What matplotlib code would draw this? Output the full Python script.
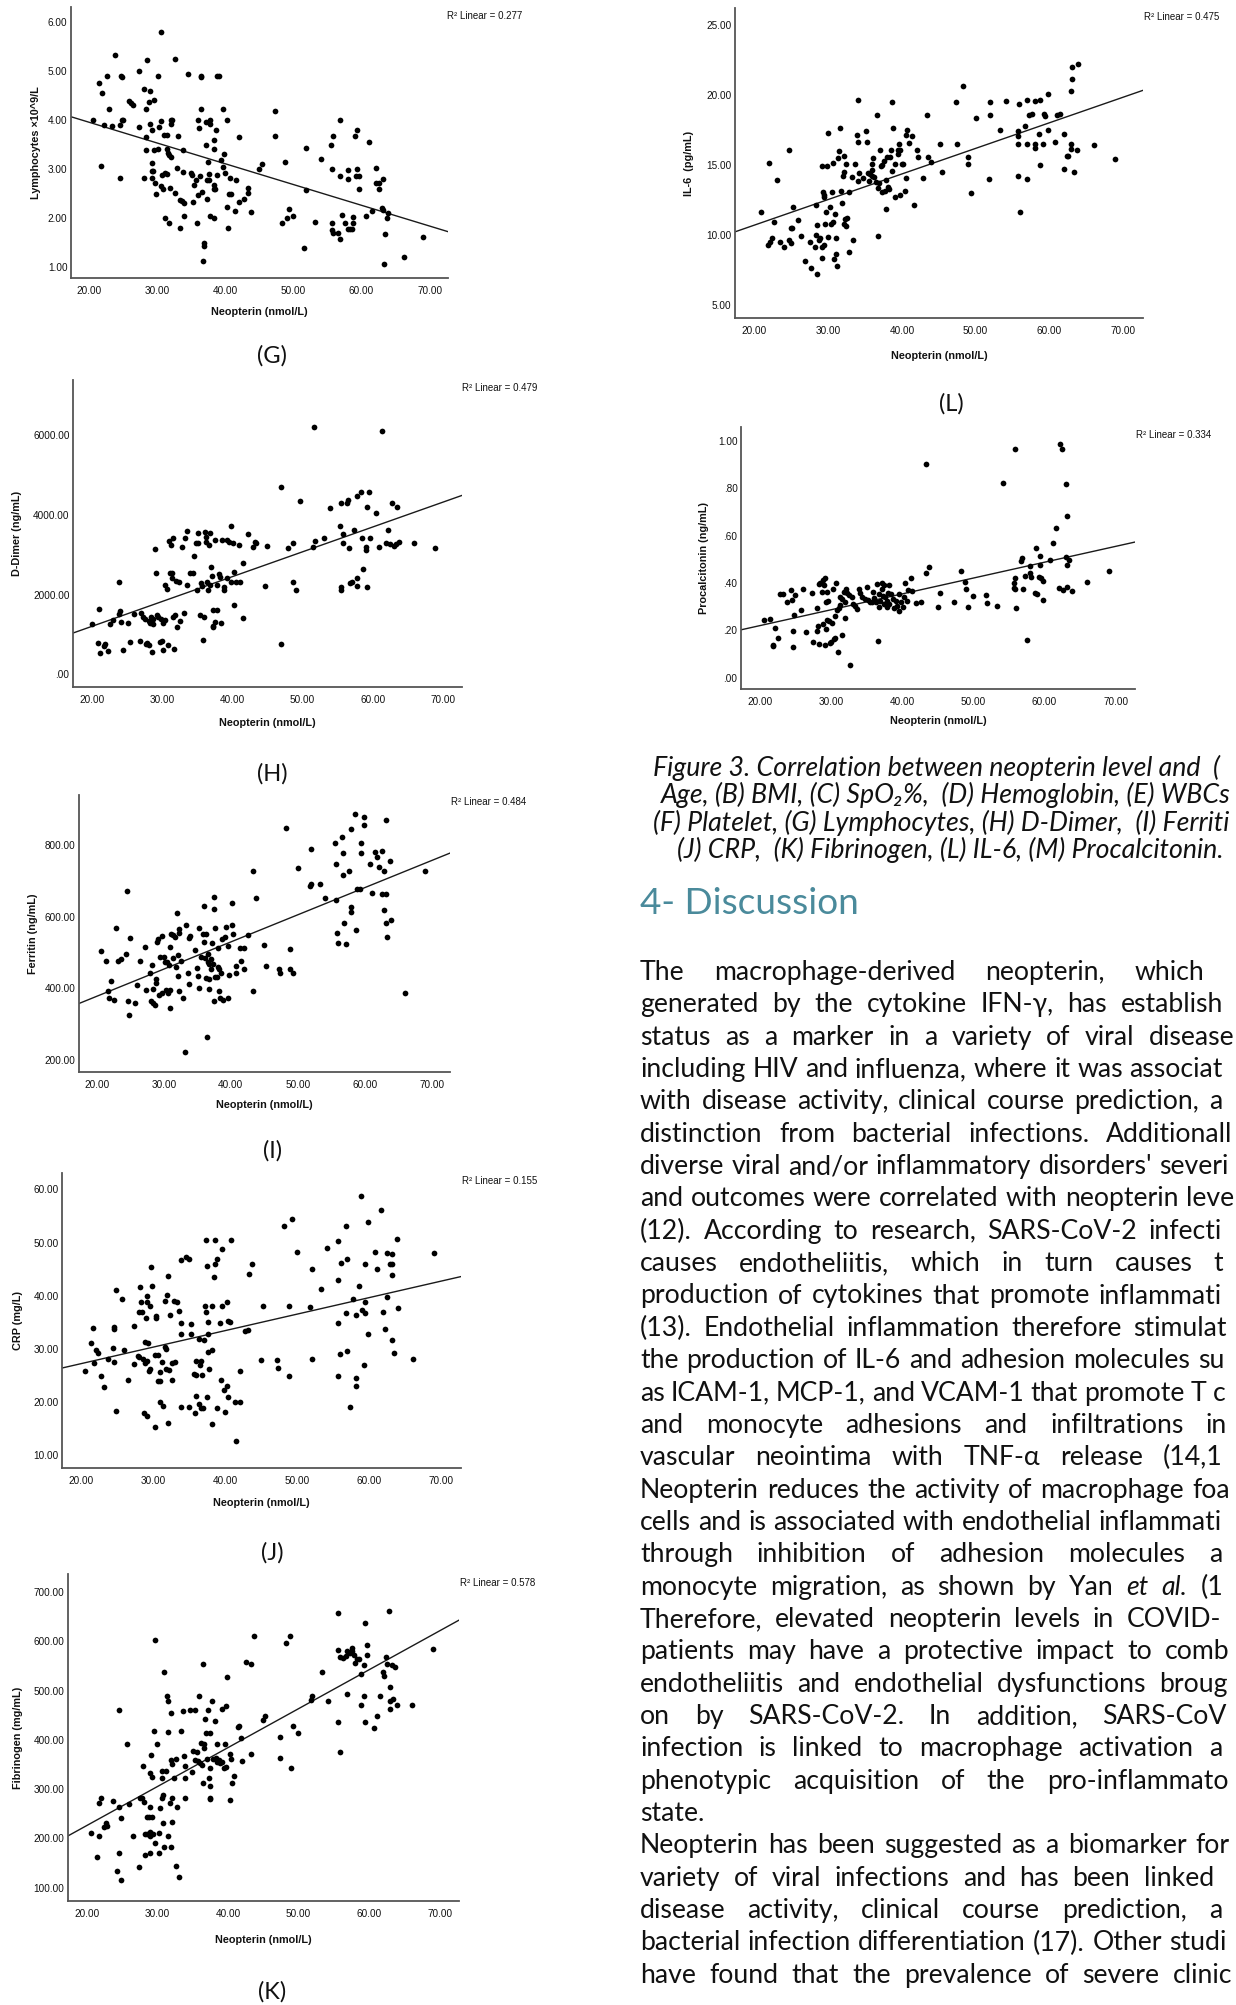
import numpy as np
import matplotlib
matplotlib.use('Agg')
import matplotlib.pyplot as plt
from matplotlib.ticker import FuncFormatter

W, H = 1236, 2005
DPI = 100

plt.rcParams['font.family'] = ['Liberation Sans', 'DejaVu Sans']
BODY = ['Lato', 'DejaVu Sans']

# ---- data (neopterin, marker) ----
lymph_pts = [
    (20.6, 4.00), (21.5, 4.75), (21.9, 4.55), (21.8, 3.06), (22.2, 3.90), (22.6, 4.90), (22.9, 4.22),
    (23.3, 3.88), (23.8, 5.32), (24.5, 3.89), (24.6, 2.81), (24.7, 4.90), (24.9, 4.87), (24.8, 4.00),
    (25.0, 4.00), (25.8, 4.38), (26.1, 4.34), (26.5, 4.31), (27.4, 5.01), (27.4, 3.85), (28.0, 2.81),
    (28.1, 4.63), (28.4, 4.22), (28.4, 3.66), (28.3, 3.39), (28.5, 5.22), (28.9, 4.60), (28.8, 4.36),
    (29.0, 3.92), (29.2, 3.80), (29.2, 3.13), (29.2, 2.96), (29.4, 2.96), (29.2, 2.81), (29.5, 3.39),
    (29.6, 4.41), (29.7, 2.71), (29.8, 2.49), (30.1, 4.90), (30.2, 3.85), (30.1, 3.40), (30.5, 3.97),
    (30.6, 5.80), (30.5, 2.65), (30.7, 2.88), (30.9, 2.58), (31.0, 3.69), (31.2, 2.91), (31.4, 3.40),
    (31.5, 3.69), (31.5, 2.90), (31.1, 2.00), (31.6, 3.32), (31.8, 3.29), (32.1, 4.00), (32.1, 3.92),
    (32.1, 3.25), (31.9, 2.60), (31.8, 1.89), (32.2, 4.00), (32.6, 5.24), (32.6, 2.50), (32.9, 3.01),
    (33.1, 3.68), (33.4, 2.36), (33.4, 1.79), (33.7, 2.34), (33.8, 3.39), (33.8, 2.94), (33.9, 2.30),
    (33.9, 2.04), (34.5, 4.94), (34.9, 2.91), (35.1, 2.88), (35.3, 2.33), (35.4, 2.67), (35.7, 2.77),
    (35.9, 1.90), (36.0, 2.47), (36.0, 4.00), (36.1, 3.84), (36.3, 2.86), (36.4, 4.87), (36.5, 4.89),
    (36.5, 4.22), (36.6, 2.53), (36.7, 1.12), (36.9, 1.48), (36.9, 1.42), (37.1, 3.95), (37.2, 3.48),
    (37.3, 2.77), (37.3, 2.38), (37.5, 3.15), (37.6, 2.77), (37.6, 2.89), (37.7, 3.92), (37.8, 4.00),
    (37.8, 2.04), (38.3, 1.99), (38.3, 3.40), (38.3, 3.59), (38.4, 2.67), (38.4, 2.58), (38.6, 3.80),
    (38.5, 2.58), (38.8, 2.88), (38.8, 4.89), (39.1, 4.89), (39.3, 3.18), (39.6, 3.04), (39.7, 4.22),
    (39.8, 3.31), (40.0, 2.91), (40.2, 2.23), (40.3, 4.00), (40.4, 1.79), (40.5, 2.49), (40.7, 2.81),
    (40.8, 2.49), (41.4, 2.13), (41.6, 2.77), (42.0, 3.66), (42.0, 2.33), (42.7, 2.38), (43.3, 2.51),
    (43.3, 2.62), (43.8, 2.11), (45.0, 3.00), (45.4, 3.10), (47.3, 4.19), (47.3, 3.67), (48.3, 1.90),
    (48.8, 3.15), (49.0, 1.99), (49.4, 2.19), (50.0, 2.04), (51.6, 1.38), (51.9, 3.42), (51.9, 2.57),
    (53.2, 1.91), (54.0, 3.20), (55.5, 3.49), (55.6, 2.99), (55.6, 1.90), (55.6, 1.76), (55.8, 3.67),
    (55.8, 1.69), (56.6, 1.68), (56.8, 4.00), (56.9, 2.86), (56.9, 1.57), (57.2, 2.06), (57.6, 1.90),
    (58.0, 2.98), (58.0, 2.79), (58.0, 1.78), (58.3, 1.78), (58.7, 2.02), (58.6, 1.78), (58.8, 1.90),
    (59.1, 3.67), (59.3, 3.80), (59.3, 2.99), (59.2, 2.86), (59.7, 2.86), (59.7, 2.58), (60.7, 2.04),
    (61.1, 3.56), (61.5, 2.13), (62.2, 3.01), (62.1, 2.71), (62.5, 2.71), (62.6, 2.58), (63.0, 2.21),
    (63.2, 2.80), (63.2, 2.17), (63.3, 1.05), (63.4, 1.66), (63.9, 2.09), (63.8, 1.99), (66.2, 1.19),
    (69.1, 1.61),
]

ddimer_pts = [
    (20.0, 1272), (21.0, 1640), (20.9, 787), (21.2, 536), (21.7, 703), (21.9, 753), (22.4, 586),
    (22.6, 1272), (23.1, 1372), (23.9, 2326), (23.9, 1523), (24.1, 1590), (24.2, 1314), (24.4, 603),
    (25.2, 1289), (25.5, 812), (26.0, 1506), (26.9, 837), (27.0, 1540), (27.3, 1439), (27.6, 1397),
    (27.7, 753), (27.9, 787), (28.1, 1339), (28.2, 728), (28.3, 1289), (28.4, 1439), (28.6, 561),
    (28.7, 1272), (28.8, 1397), (29.0, 3130), (29.2, 2544), (29.3, 1481), (29.4, 1439), (29.7, 812),
    (29.9, 1397), (30.0, 837), (30.1, 619), (30.2, 1289), (30.4, 1372), (30.5, 2234), (30.7, 2126),
    (30.8, 728), (31.0, 3347), (31.2, 2544), (31.3, 3238), (31.4, 2402), (31.5, 2544), (31.6, 3406),
    (31.6, 1439), (31.8, 1481), (31.7, 644), (32.0, 2343), (32.1, 1188), (32.4, 2318), (32.6, 1339),
    (32.9, 3180), (33.2, 1540), (33.3, 3406), (33.5, 3598), (33.5, 2234), (34.0, 2527), (34.4, 2527),
    (34.6, 2962), (34.8, 3280), (35.0, 2109), (35.2, 3548), (35.2, 3280), (35.4, 1481), (35.5, 2276),
    (35.7, 2209), (35.9, 870), (36.0, 1439), (36.1, 3573), (36.3, 3322), (36.3, 3448), (36.4, 2318),
    (36.5, 2109), (36.7, 3238), (36.9, 3531), (36.9, 2234), (37.0, 2695), (37.1, 2460), (37.2, 1623),
    (37.2, 1205), (37.3, 1188), (37.6, 3364), (37.6, 1314), (37.8, 2234), (37.9, 1623), (38.1, 2510),
    (38.3, 2444), (38.4, 1289), (38.5, 3364), (38.8, 2109), (38.9, 2192), (39.2, 3364), (39.3, 2402),
    (39.6, 3322), (39.8, 2318), (39.9, 3724), (40.1, 3280), (40.3, 2569), (40.5, 2318), (40.3, 1732),
    (41.0, 3238), (41.1, 2318), (41.6, 2778), (41.6, 1423), (42.3, 3515), (42.9, 3197), (43.2, 3322),
    (43.4, 3280), (44.6, 2209), (45.0, 3213), (46.9, 4686), (47.0, 770), (47.9, 3155), (48.6, 3297),
    (48.7, 2318), (49.1, 2109), (49.7, 4351), (51.5, 3180), (51.8, 3347), (51.7, 6192), (53.1, 3406),
    (53.9, 4159), (55.4, 3715), (55.5, 4285), (55.5, 2192), (55.5, 2109), (55.7, 3515), (55.7, 3280),
    (56.4, 4285), (56.5, 4368), (56.6, 3155), (56.7, 2293), (57.0, 2310), (57.3, 3615), (57.7, 4469),
    (57.8, 2402), (57.8, 2209), (58.4, 4577), (58.5, 3406), (58.6, 2628), (59.0, 3113), (59.1, 3180),
    (59.2, 4201), (59.2, 2176), (59.5, 4577), (59.6, 3406), (60.5, 4050), (60.9, 3180), (61.3, 6100),
    (62.2, 3615), (61.9, 3280), (62.4, 3264), (62.8, 4285), (63.0, 3213), (63.3, 3264), (63.4, 4184),
    (63.7, 3322), (65.8, 3297), (68.8, 3172),
]

ferritin_pts = [
    (20.6, 505), (21.4, 475), (21.7, 391), (21.8, 374), (22.1, 421), (22.5, 366), (22.8, 567),
    (23.2, 477), (23.6, 482), (24.3, 496), (24.5, 673), (24.6, 363), (24.8, 326), (24.9, 541),
    (25.7, 360), (26.0, 409), (26.5, 475), (27.2, 514), (27.4, 395), (27.9, 444), (28.1, 363),
    (28.2, 465), (28.4, 358), (28.4, 399), (28.7, 353), (28.8, 414), (28.9, 425), (29.0, 529),
    (29.1, 537), (29.3, 381), (29.4, 487), (29.7, 546), (29.8, 388), (30.1, 487), (30.2, 474),
    (30.3, 395), (30.5, 472), (30.6, 386), (30.8, 465), (30.9, 395), (30.9, 345), (31.0, 516),
    (31.1, 552), (31.3, 484), (31.4, 548), (31.6, 544), (31.8, 460), (31.9, 611), (32.1, 434),
    (32.1, 492), (32.2, 565), (32.2, 555), (32.3, 391), (32.6, 477), (32.8, 372), (33.1, 221),
    (33.3, 576), (33.6, 442), (33.8, 411), (33.8, 540), (33.9, 546), (34.6, 507), (34.9, 457),
    (35.1, 435), (35.3, 568), (35.3, 400), (35.6, 487), (35.9, 551), (36.0, 529), (36.0, 630),
    (36.1, 484), (36.3, 553), (36.3, 428), (36.5, 265), (36.6, 496), (36.6, 474), (36.7, 426),
    (36.8, 399), (36.8, 468), (37.1, 481), (37.1, 453), (37.2, 526), (37.4, 468), (37.5, 622),
    (37.5, 654), (37.5, 365), (37.6, 431), (37.7, 567), (37.9, 431), (38.1, 460), (38.1, 513),
    (38.2, 393), (38.3, 453), (38.4, 374), (38.6, 444), (38.7, 539), (38.8, 367), (39.1, 544),
    (39.3, 572), (39.6, 518), (39.6, 372), (39.8, 438), (40.2, 639), (40.2, 576), (40.3, 552),
    (40.7, 442), (40.8, 462), (41.3, 512), (41.5, 477), (41.9, 512), (41.9, 453), (42.6, 550),
    (43.3, 727), (43.3, 392), (43.7, 652), (44.9, 521), (45.3, 462), (47.2, 455), (47.3, 442),
    (48.2, 847), (48.9, 509), (48.8, 453), (49.3, 442), (50.0, 736), (51.8, 687), (51.9, 691),
    (51.9, 788), (53.3, 690), (54.1, 651), (55.6, 805), (55.7, 746), (55.7, 648), (55.9, 554),
    (56.0, 527), (56.6, 823), (56.8, 777), (56.8, 716), (56.9, 581), (57.2, 524), (57.6, 727),
    (57.9, 844), (58.0, 628), (58.0, 612), (58.6, 887), (58.7, 563), (58.8, 676), (59.3, 678),
    (59.4, 807), (59.4, 777), (59.8, 879), (59.8, 856), (60.7, 746), (61.1, 667), (61.5, 780),
    (61.8, 767), (62.1, 738), (62.5, 784), (62.5, 662), (62.9, 727), (62.8, 620), (63.1, 662),
    (63.1, 582), (63.2, 870), (63.3, 542), (63.7, 756), (63.9, 591), (66.0, 388), (68.9, 727),
]

crp_pts = [
    (20.6, 25.9), (21.4, 31.2), (21.7, 33.9), (21.8, 27.4), (22.1, 29.9), (22.4, 29.3), (22.8, 24.9),
    (23.2, 22.8), (23.7, 28.2), (24.4, 30.1), (24.5, 27.6), (24.6, 34.1), (24.6, 33.7), (24.8, 41.1),
    (24.9, 18.4), (25.7, 39.4), (26.0, 29.8), (26.5, 24.2), (27.3, 34.4), (27.3, 27.2), (27.9, 28.7),
    (28.1, 28.4), (28.1, 37.0), (28.2, 41.7), (28.4, 37.0), (28.3, 38.9), (28.6, 28.1), (28.7, 17.9),
    (28.8, 31.4), (28.9, 27.4), (29.0, 35.9), (29.1, 40.0), (29.1, 17.5), (29.1, 38.9), (29.1, 27.8),
    (29.3, 31.1), (29.4, 25.9), (29.5, 26.2), (29.6, 38.1), (29.7, 45.4), (29.9, 41.8), (30.2, 15.3),
    (30.2, 28.9), (30.4, 36.2), (30.4, 35.9), (30.6, 28.9), (30.7, 23.9), (30.9, 23.9), (31.0, 25.6),
    (31.0, 20.0), (31.2, 27.6), (31.4, 19.2), (31.6, 39.1), (31.7, 30.4), (31.8, 30.0), (31.8, 26.2),
    (31.9, 40.1), (32.0, 16.1), (32.1, 43.7), (32.2, 26.1), (32.3, 36.4), (32.6, 24.2), (32.6, 27.3),
    (32.9, 39.1), (33.0, 27.6), (33.3, 38.9), (33.6, 37.1), (33.8, 19.1), (33.9, 46.7), (33.9, 34.9),
    (33.9, 32.9), (34.5, 47.2), (34.9, 46.9), (35.0, 19.1), (35.3, 34.7), (35.3, 32.9), (35.6, 25.3),
    (35.8, 17.9), (35.9, 27.8), (36.0, 21.1), (36.0, 25.1), (36.3, 19.7), (36.4, 31.9), (36.5, 27.0),
    (36.6, 18.9), (36.7, 27.8), (36.8, 25.2), (36.9, 18.9), (37.0, 31.6), (37.3, 50.4), (37.2, 38.0),
    (37.3, 37.0), (37.4, 20.9), (37.5, 45.6), (37.6, 29.4), (37.6, 35.1), (37.6, 32.9), (37.8, 26.2),
    (38.2, 29.9), (38.2, 15.9), (38.2, 38.1), (38.4, 43.6), (38.6, 50.4), (38.6, 45.9), (38.8, 46.9),
    (38.9, 18.9), (39.3, 34.9), (39.4, 24.1), (39.6, 38.1), (39.6, 48.8), (39.8, 22.2), (39.9, 18.1),
    (40.2, 23.1), (40.3, 38.9), (40.4, 35.3), (40.4, 21.0), (40.7, 35.0), (40.8, 50.4), (41.4, 20.0),
    (41.5, 12.8), (42.0, 20.0), (42.0, 25.9), (42.7, 33.4), (43.2, 33.5), (43.3, 44.1), (43.7, 45.9),
    (45.0, 27.9), (45.3, 38.1), (47.2, 27.9), (47.3, 26.4), (48.2, 53.1), (48.9, 24.9), (48.9, 38.1),
    (49.3, 54.5), (49.9, 48.3), (51.8, 37.8), (52.0, 45.1), (52.0, 28.2), (53.3, 41.2), (54.1, 48.9),
    (55.7, 50.3), (55.7, 42.9), (55.7, 34.9), (55.7, 25.0), (55.9, 29.1), (56.0, 46.1), (56.7, 36.7),
    (56.8, 53.1), (56.9, 46.9), (56.9, 29.6), (57.3, 19.1), (57.7, 39.3), (58.1, 36.4), (58.1, 24.6),
    (58.1, 23.0), (58.6, 41.9), (58.8, 58.7), (58.9, 37.4), (59.2, 26.9), (59.4, 38.9), (59.4, 45.9),
    (59.4, 36.7), (59.8, 53.8), (59.8, 32.9), (60.8, 48.3), (61.1, 45.0), (61.6, 56.1), (61.9, 36.9),
    (62.1, 33.8), (62.5, 48.1), (62.5, 39.8), (62.9, 45.9), (63.1, 31.7), (63.1, 45.9), (63.1, 47.8),
    (63.1, 43.9), (63.4, 29.2), (63.8, 50.6), (63.9, 37.7), (66.1, 28.1), (69.0, 48.1),
]

fibrinogen_pts = [
    (20.6, 212), (21.4, 162), (21.7, 206), (21.8, 271), (22.0, 282), (22.5, 223), (22.7, 232),
    (22.9, 225), (23.7, 277), (24.5, 460), (24.5, 263), (24.6, 170), (24.3, 134), (24.8, 116),
    (24.9, 242), (25.7, 391), (26.0, 269), (26.5, 205), (27.4, 143), (27.5, 282), (27.8, 282),
    (28.0, 348), (28.1, 275), (28.2, 166), (28.3, 210), (28.5, 243), (28.6, 210), (28.8, 243),
    (28.9, 204), (28.9, 214), (29.0, 263), (29.0, 170), (29.0, 332), (29.1, 370), (29.2, 324),
    (29.3, 244), (29.4, 210), (29.5, 418), (29.7, 603), (29.7, 191), (30.0, 391), (30.2, 212),
    (30.3, 170), (30.4, 261), (30.6, 282), (30.6, 323), (30.7, 337), (30.8, 288), (30.8, 231),
    (30.9, 537), (30.9, 182), (31.2, 337), (31.3, 489), (31.5, 479), (31.5, 417), (31.5, 204),
    (31.8, 273), (31.9, 455), (32.0, 359), (32.0, 183), (32.1, 351), (32.1, 282), (32.1, 234),
    (32.3, 322), (32.6, 361), (32.6, 144), (32.8, 263), (33.0, 122), (33.3, 419), (33.6, 458),
    (33.8, 367), (33.9, 347), (33.9, 323), (33.9, 283), (34.6, 460), (34.9, 334), (35.1, 378),
    (35.3, 461), (35.3, 359), (35.6, 376), (35.7, 357), (35.9, 490), (36.0, 354), (36.2, 393),
    (36.3, 349), (36.4, 554), (36.5, 312), (36.6, 383), (36.6, 391), (36.7, 442), (36.9, 414),
    (37.0, 361), (37.2, 461), (37.3, 323), (37.4, 415), (37.5, 307), (37.5, 281), (37.5, 283),
    (37.5, 344), (37.7, 479), (37.9, 361), (38.2, 439), (38.3, 363), (38.4, 356), (38.5, 391),
    (38.7, 359), (38.9, 353), (39.1, 356), (39.2, 462), (39.4, 344), (39.6, 391), (39.7, 468),
    (39.8, 527), (39.7, 346), (40.3, 279), (40.3, 372), (40.4, 361), (40.6, 312), (40.8, 327),
    (41.4, 426), (41.5, 428), (41.9, 405), (42.0, 357), (42.6, 559), (43.2, 554), (43.2, 372),
    (43.7, 612), (44.9, 440), (45.2, 449), (47.3, 364), (47.4, 407), (48.2, 597), (48.8, 612),
    (48.9, 344), (49.2, 429), (49.9, 415), (51.8, 481), (51.9, 490), (53.3, 538), (54.1, 479),
    (55.6, 657), (55.6, 583), (55.6, 436), (55.8, 568), (55.9, 375), (56.3, 567), (56.7, 571),
    (56.8, 493), (56.9, 580), (57.2, 576), (57.5, 586), (57.6, 580), (57.8, 572), (58.0, 557),
    (58.3, 565), (58.6, 564), (58.8, 534), (58.8, 472), (59.2, 490), (59.2, 552), (59.4, 638),
    (59.4, 437), (59.7, 593), (59.7, 572), (60.7, 424), (61.1, 449), (61.5, 490), (61.9, 538),
    (62.1, 529), (62.4, 569), (62.5, 554), (62.8, 662), (62.9, 508), (63.0, 479), (63.0, 463),
    (63.2, 552), (63.3, 483), (63.7, 548), (63.9, 471), (66.0, 472), (69.0, 584),
]

il6_pts = [
    (20.9, 11.63), (21.8, 9.30), (22.0, 15.14), (22.1, 9.46), (22.4, 9.80), (22.7, 10.92), (23.1, 13.90),
    (23.4, 9.46), (24.0, 9.13), (24.7, 16.07), (24.7, 9.61), (24.9, 9.42), (24.9, 10.47), (25.1, 10.51),
    (25.2, 11.99), (25.9, 11.04), (26.3, 9.89), (26.8, 8.15), (27.5, 9.51), (27.7, 7.65), (28.2, 9.13),
    (28.3, 12.11), (28.4, 10.01), (28.5, 7.22), (28.5, 10.73), (28.7, 9.61), (28.9, 9.77), (29.1, 14.95),
    (29.2, 8.37), (29.2, 9.13), (29.3, 13.04), (29.4, 12.88), (29.4, 12.68), (29.4, 9.30), (29.6, 10.80),
    (29.7, 11.61), (29.8, 14.90), (29.9, 9.85), (30.0, 17.29), (30.3, 11.99), (30.4, 10.75), (30.5, 13.04),
    (30.6, 10.90), (30.7, 15.14), (30.8, 8.27), (30.9, 11.52), (31.0, 9.77), (31.1, 8.60), (31.2, 7.74),
    (31.3, 15.52), (31.4, 15.98), (31.6, 17.67), (31.7, 13.11), (31.8, 12.28), (32.0, 14.19), (32.1, 14.47),
    (32.2, 15.62), (32.2, 10.80), (32.3, 11.13), (32.4, 10.61), (32.4, 15.10), (32.5, 11.21), (32.8, 8.77),
    (32.8, 13.04), (33.2, 14.14), (33.3, 9.61), (33.6, 15.10), (33.9, 17.12), (34.0, 19.63), (34.1, 16.62),
    (34.1, 13.83), (34.2, 14.43), (34.7, 14.07), (35.1, 17.41), (35.3, 16.67), (35.4, 14.43), (35.5, 13.83),
    (35.6, 14.38), (35.9, 14.19), (35.9, 14.67), (36.0, 15.08), (36.1, 15.48), (36.2, 14.12), (36.5, 13.76),
    (36.6, 18.56), (36.7, 9.89), (36.7, 13.35), (36.9, 13.71), (37.0, 16.07), (37.1, 14.90), (37.3, 15.02),
    (37.3, 13.04), (37.6, 15.26), (37.7, 13.11), (37.8, 13.95), (37.9, 11.87), (38.0, 15.55), (38.1, 13.42),
    (38.2, 13.28), (38.4, 15.57), (38.5, 16.05), (38.6, 19.53), (38.7, 14.55), (38.8, 17.65), (39.0, 12.71),
    (39.1, 15.08), (39.4, 15.81), (39.5, 16.05), (39.6, 16.50), (39.7, 12.88), (39.8, 16.05), (40.0, 15.08),
    (40.2, 15.08), (40.4, 13.16), (40.5, 14.07), (40.5, 17.17), (40.7, 17.53), (40.9, 16.57), (41.4, 17.10),
    (41.6, 12.14), (42.1, 16.10), (42.2, 15.57), (42.8, 14.07), (43.4, 18.60), (43.5, 15.57), (43.9, 15.21),
    (45.1, 16.53), (45.4, 14.47), (47.3, 19.53), (47.4, 16.50), (48.3, 20.68), (48.9, 15.10), (49.0, 15.55),
    (49.3, 12.99), (50.0, 18.39), (51.8, 14.00), (52.0, 19.49), (52.0, 18.60), (53.3, 17.53), (54.1, 19.56),
    (55.7, 14.19), (55.7, 16.53), (55.8, 17.46), (55.8, 17.10), (55.9, 19.39), (56.0, 11.63), (56.7, 17.82),
    (56.9, 19.68), (56.9, 14.00), (56.9, 16.48), (57.2, 18.60), (57.6, 18.65), (58.0, 19.56), (58.0, 16.19),
    (58.1, 16.53), (58.6, 17.24), (58.7, 19.68), (58.7, 15.00), (59.2, 16.53), (59.3, 18.68), (59.4, 18.48),
    (59.8, 20.11), (59.8, 17.53), (60.8, 16.65), (61.1, 18.58), (61.4, 18.65), (62.0, 17.20), (62.0, 14.71),
    (62.4, 15.62), (62.5, 15.67), (63.0, 16.53), (63.0, 16.15), (63.0, 20.32), (63.1, 21.16), (63.1, 22.04),
    (63.3, 14.47), (63.8, 16.10), (63.9, 22.26), (66.0, 16.46), (68.9, 15.43),
]

pct_pts = [
    (20.6, .245), (21.4, .250), (21.8, .138), (21.9, .132), (22.1, .211), (22.5, .169), (22.8, .352),
    (23.3, .352), (23.8, .321), (24.4, .369), (24.5, .329), (24.7, .198), (24.7, .128), (24.8, .264),
    (24.9, .349), (25.8, .287), (26.1, .377), (26.5, .191), (27.3, .360), (27.4, .149), (28.0, .294),
    (28.0, .197), (28.2, .217), (28.3, .395), (28.3, .141), (28.5, .399), (28.7, .363), (28.8, .414),
    (28.9, .226), (29.0, .391), (29.1, .422), (29.1, .138), (29.3, .205), (29.3, .321), (29.4, .245),
    (29.5, .363), (29.6, .323), (29.7, .239), (29.8, .146), (30.0, .149), (30.2, .233), (30.3, .377),
    (30.4, .163), (30.5, .262), (30.6, .169), (30.7, .402), (30.9, .287), (31.0, .110), (31.1, .293),
    (31.2, .343), (31.3, .307), (31.5, .180), (31.6, .332), (31.8, .363), (31.9, .253), (32.0, .321),
    (32.1, .374), (32.2, .357), (32.5, .349), (32.6, .053), (32.9, .339), (33.1, .311), (33.4, .304),
    (33.6, .290), (33.9, .374), (34.1, .357), (34.4, .343), (34.7, .332), (35.0, .385), (35.2, .329),
    (35.5, .321), (35.7, .318), (35.9, .363), (36.1, .335), (36.3, .318), (36.5, .395), (36.6, .155),
    (36.7, .353), (36.8, .297), (36.9, .325), (37.1, .374), (37.2, .399), (37.3, .346), (37.4, .311),
    (37.5, .391), (37.6, .339), (37.8, .297), (37.9, .325), (38.0, .360), (38.2, .391), (38.2, .311),
    (38.4, .353), (38.7, .332), (38.9, .293), (39.1, .325), (39.3, .304), (39.5, .283), (39.6, .353),
    (39.8, .321), (40.1, .297), (40.3, .339), (40.4, .402), (40.6, .325), (40.8, .369), (41.3, .423),
    (41.4, .367), (41.9, .315), (42.6, .321), (43.3, .442), (43.4, .902), (43.7, .470), (45.0, .297),
    (45.3, .357), (47.3, .321), (48.2, .449), (48.8, .405), (48.9, .374), (49.3, .297), (50.0, .346),
    (51.7, .349), (51.9, .314), (53.3, .304), (54.1, .824), (55.7, .399), (55.7, .381), (55.8, .374),
    (55.8, .968), (55.9, .423), (56.0, .293), (56.7, .494), (56.8, .508), (56.9, .374), (57.2, .428),
    (57.5, .158), (57.9, .473), (58.0, .444), (58.1, .426), (58.7, .360), (58.8, .549), (58.9, .353),
    (59.2, .426), (59.3, .515), (59.4, .478), (59.5, .422), (59.8, .409), (59.8, .329), (60.8, .498),
    (61.2, .568), (61.6, .634), (62.0, .381), (62.2, .990), (62.5, .968), (62.6, .371), (63.0, .511),
    (63.0, .821), (63.2, .684), (63.2, .385), (63.2, .478), (63.4, .498), (63.8, .366), (66.0, .406),
    (69.0, .449),
]

charts = [
    ('G', lymph_pts, 'Lymphocytes \u00d710^9/L', '0.277', [1, 2, 3, 4, 5, 6]),
    ('H', ddimer_pts, 'D-Dimer (ng/mL)', '0.479', [0, 2000, 4000, 6000]),
    ('I', ferritin_pts, 'Ferritin (ng/mL)', '0.484', [200, 400, 600, 800]),
    ('J', crp_pts, 'CRP (mg/L)', '0.155', [10, 20, 30, 40, 50, 60]),
    ('K', fibrinogen_pts, 'Fibrinogen (mg/mL)', '0.578', [100, 200, 300, 400, 500, 600, 700]),
    ('L', il6_pts, 'IL-6  (pg/mL)', '0.475', [5, 10, 15, 20, 25]),
    ('M', pct_pts, 'Procalcitonin (ng/mL)', '0.334', [0, .2, .4, .6, .8, 1.0]),
]
x_ticks = [20, 30, 40, 50, 60, 70]

# ---- page layout in pixels ----
# box = (left, top, right, bottom), ylab_x, xlab_y, r2 (x, y), letter (x, y)
layout = {
    'G': dict(box=(71, 7, 448, 278), ylim=(0.77, 6.31), ylab_x=36, xlab_y=312, r2=(447, 16), let=(272, 356)),
    'H': dict(box=(73, 380, 462, 687), ylim=(-320, 7380), ylab_x=17, xlab_y=723, r2=(462, 388), let=(272, 774)),
    'I': dict(box=(79, 795, 450, 1072), ylim=(166, 940), ylab_x=33, xlab_y=1105, r2=(451, 802), let=(273, 1151)),
    'J': dict(box=(62, 1173, 461, 1468), ylim=(7.64, 63.06), ylab_x=18, xlab_y=1503, r2=(462, 1181), let=(272, 1553)),
    'K': dict(box=(68, 1574, 459, 1901), ylim=(73, 737), ylab_x=18, xlab_y=1940, r2=(460, 1583), let=(272, 1992)),
    'L': dict(box=(735, 8, 1143, 318), ylim=(4.05, 26.24), ylab_x=689, xlab_y=356, r2=(1144, 17), let=(951, 404)),
    'M': dict(box=(741, 427, 1135, 689), ylim=(-0.048, 1.06), ylab_x=704, xlab_y=721, r2=(1136, 435), let=None),
}


def spss_fmt(v, pos=None):
    s = '%.2f' % v
    if s.startswith('0.'):
        s = s[1:]
    return s


fig = plt.figure(figsize=(W / DPI, H / DPI), dpi=DPI)
fig.patch.set_facecolor('white')

for key, pts, ylab, r2, yt in charts:
    lay = layout[key]
    l, t, r, b = lay['box']
    ax = fig.add_axes([l / W, 1 - b / H, (r - l) / W, (b - t) / H])
    x, y = np.array(pts).T
    ax.scatter(x, y, s=17, c='black', linewidths=0, zorder=3)
    ax.set_xlim(17.35, 72.7)
    ax.set_ylim(*lay['ylim'])
    k, c = np.polyfit(x, y, 1)
    xx = np.array(ax.get_xlim())
    ax.plot(xx, k * xx + c, color='#1a1a1a', lw=1.0, zorder=2)

    ax.set_xticks(x_ticks)
    ax.set_yticks(yt)
    ax.xaxis.set_major_formatter(FuncFormatter(spss_fmt))
    ax.yaxis.set_major_formatter(FuncFormatter(spss_fmt))
    ax.tick_params(length=0, labelsize=7.2, colors='#111111')
    ax.tick_params(axis='x', pad=5.5)
    ax.tick_params(axis='y', pad=2.5)
    for s in ('top', 'right'):
        ax.spines[s].set_visible(False)
    for s in ('left', 'bottom'):
        ax.spines[s].set_color('#555555')
        ax.spines[s].set_linewidth(1.3)

    ax.set_xlabel('Neopterin (nmol/L)', fontsize=7.8, fontweight='bold', color='#111111')
    ax.xaxis.set_label_coords(0.5, -(lay['xlab_y'] - b) / (b - t))
    ax.xaxis.label.set_va('center')
    ax.set_ylabel(ylab, fontsize=7.8, fontweight='bold', color='#111111')
    ax.yaxis.set_label_coords((lay['ylab_x'] - l) / (r - l), 0.5)
    ax.yaxis.label.set_va('center')

    fig.text(lay['r2'][0] / W, 1 - lay['r2'][1] / H, 'R\u00b2 Linear = ' + r2,
             fontsize=7, ha='left', va='center', color='#111111')
    if lay['let']:
        fig.text(lay['let'][0] / W, 1 - lay['let'][1] / H, '(%s)' % key,
                 fontsize=17, family=BODY, ha='center', va='center', color='#111111')

# ---- caption, heading and body text (the page is cropped at the right edge) ----
rend = fig.canvas.get_renderer()


def text_w(s, size, style='normal'):
    tt = fig.text(0, 0, s, fontsize=size, family=BODY, style=style)
    w = tt.get_window_extent(rend).width
    tt.remove()
    return w


def crop(s, x0, size, style='normal'):
    # keep only the characters that fit before the page edge
    while s and x0 + text_w(s, size, style) > W - 1:
        s = s[:-1]
    return s.rstrip()


caption = [
    'Figure 3. Correlation between neopterin level and  (A)',
    'Age, (B) BMI, (C) SpO\u2082%,  (D) Hemoglobin, (E) WBCs,',
    '(F) Platelet, (G) Lymphocytes, (H) D-Dimer,  (I) Ferritin,',
    '(J) CRP,  (K) Fibrinogen, (L) IL-6, (M) Procalcitonin.',
]
cap_x = [653, 661, 653, 677]
cap_y = [768, 795, 823, 850]
cap_size = 15 * 547 / text_w(caption[3], 15, 'italic')
for s, cx, cy in zip(caption, cap_x, cap_y):
    fig.text(cx / W, 1 - cy / H, crop(s, cx, cap_size, 'italic'), fontsize=cap_size,
             family=BODY, style='italic', ha='left', va='center', color='#111111')

head_size = 28 * 219 / text_w('4- Discussion', 28)
fig.text(640 / W, 1 - 903 / H, '4- Discussion', fontsize=head_size, family=BODY,
         ha='left', va='center', color='#4a8a9b')

body = [
    'The macrophage-derived neopterin, which is',
    'generated by the cytokine IFN-\u03b3, has established',
    'status as a marker in a variety of viral diseases,',
    'including HIV and influenza, where it was associated',
    'with disease activity, clinical course prediction, and',
    'distinction from bacterial infections. Additionally,',
    "diverse viral and/or inflammatory disorders' severity",
    'and outcomes were correlated with neopterin levels',
    '(12). According to research, SARS-CoV-2 infection',
    'causes endotheliitis, which in turn causes the',
    'production of cytokines that promote inflammation',
    '(13). Endothelial inflammation therefore stimulates',
    'the production of IL-6 and adhesion molecules such',
    'as ICAM-1, MCP-1, and VCAM-1 that promote T cell',
    'and monocyte adhesions and infiltrations into',
    'vascular neointima with TNF-\u03b1 release (14,15).',
    'Neopterin reduces the activity of macrophage foam',
    'cells and is associated with endothelial inflammation',
    'through inhibition of adhesion molecules and',
    'monocyte migration, as shown by Yan _et_ _al._ (16).',
    'Therefore, elevated neopterin levels in COVID-19',
    'patients may have a protective impact to combat',
    'endotheliitis and endothelial dysfunctions brought',
    'on by SARS-CoV-2. In addition, SARS-CoV-2',
    'infection is linked to macrophage activation and',
    'phenotypic acquisition of the pro-inflammatory',
    'state.',
    'Neopterin has been suggested as a biomarker for a',
    'variety of viral infections and has been linked to',
    'disease activity, clinical course prediction, and',
    'bacterial infection differentiation (17). Other studies',
    'have found that the prevalence of severe clinical',
]
para_end = {26}
body_x0, body_x1 = 640, 1252
body_y0, body_dy = 972.5, 32.35
body_size = 17 * 609 / text_w(body[3], 17)
space_w = text_w('a a', body_size) - text_w('aa', body_size)

for i, line in enumerate(body):
    words = []
    for wd in line.split(' '):
        if wd.startswith('_') and wd.endswith('_'):
            words.append((wd.strip('_'), 'italic'))
        else:
            words.append((wd, 'normal'))
    widths = [text_w(wd, body_size, st) for wd, st in words]
    if i in para_end or len(words) < 2:
        gap = space_w
    else:
        gap = (body_x1 - body_x0 - sum(widths)) / (len(words) - 1)
    xpos = body_x0
    ypos = body_y0 + i * body_dy
    for (wd, st), wdt in zip(words, widths):
        if xpos >= W - 2:
            break
        shown = wd if xpos + wdt <= W - 1 else crop(wd, xpos, body_size, st)
        if shown:
            fig.text(xpos / W, 1 - ypos / H, shown, fontsize=body_size, family=BODY, style=st,
                     ha='left', va='center', color='#111111')
        xpos += wdt + gap

fig.savefig('out.png', dpi=DPI, facecolor='white')
